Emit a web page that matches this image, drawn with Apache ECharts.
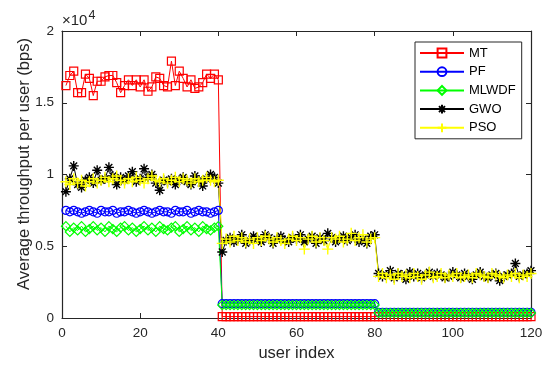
<!DOCTYPE html>
<html>
<head>
<meta charset="utf-8">
<script src="https://cdn.jsdelivr.net/npm/echarts@6/dist/echarts.min.js"></script>
<style>
html,body{margin:0;padding:0;background:#fff;}
#c{width:550px;height:372px;}
</style>
</head>
<body>
<div id="c"></div>
<script>
// user index 1..120
var users = [];
for (var u = 1; u <= 120; u++) users.push(u);

var xTicks = [0, 20, 40, 60, 80, 100, 120];
var yTicks = [0, 0.5, 1, 1.5, 2];   // in units of 10^4 bps
var seriesNames = ['MT', 'PF', 'MLWDF', 'GWO', 'PSO'];

var MT = [1.62,1.69,1.72,1.57,1.57,1.70,1.67,1.55,1.65,1.65,1.68,1.69,1.69,1.64,1.57,1.62,1.66,1.62,1.66,1.61,
          1.66,1.58,1.61,1.68,1.67,1.62,1.61,1.79,1.62,1.72,1.67,1.61,1.66,1.60,1.61,1.64,1.70,1.67,1.70,1.66,
          0.01,0.01,0.01,0.01,0.01,0.01,0.01,0.01,0.01,0.01,0.01,0.01,0.01,0.01,0.01,0.01,0.01,0.01,0.01,0.01,
          0.01,0.01,0.01,0.01,0.01,0.01,0.01,0.01,0.01,0.01,0.01,0.01,0.01,0.01,0.01,0.01,0.01,0.01,0.01,0.01,
          0.01,0.01,0.01,0.01,0.01,0.01,0.01,0.01,0.01,0.01,0.01,0.01,0.01,0.01,0.01,0.01,0.01,0.01,0.01,0.01,
          0.01,0.01,0.01,0.01,0.01,0.01,0.01,0.01,0.01,0.01,0.01,0.01,0.01,0.01,0.01,0.01,0.01,0.01,0.01,0.01];

var PF = [0.75,0.74,0.75,0.74,0.73,0.74,0.75,0.74,0.73,0.75,0.74,0.74,0.75,0.73,0.74,0.74,0.75,0.74,0.73,0.74,
          0.75,0.74,0.73,0.74,0.75,0.74,0.74,0.73,0.75,0.74,0.74,0.75,0.73,0.74,0.75,0.74,0.74,0.73,0.74,0.75,
          0.10,0.10,0.10,0.10,0.10,0.10,0.10,0.10,0.10,0.10,0.10,0.10,0.10,0.10,0.10,0.10,0.10,0.10,0.10,0.10,
          0.10,0.10,0.10,0.10,0.10,0.10,0.10,0.10,0.10,0.10,0.10,0.10,0.10,0.10,0.10,0.10,0.10,0.10,0.10,0.10,
          0.04,0.04,0.04,0.04,0.04,0.04,0.04,0.04,0.04,0.04,0.04,0.04,0.04,0.04,0.04,0.04,0.04,0.04,0.04,0.04,
          0.04,0.04,0.04,0.04,0.04,0.04,0.04,0.04,0.04,0.04,0.04,0.04,0.04,0.04,0.04,0.04,0.04,0.04,0.04,0.04];

var MLWDF = [0.64,0.60,0.63,0.61,0.64,0.60,0.62,0.64,0.61,0.63,0.60,0.64,0.62,0.60,0.63,0.64,0.61,0.63,0.60,0.62,
             0.64,0.61,0.63,0.60,0.64,0.62,0.61,0.63,0.64,0.60,0.62,0.64,0.61,0.63,0.60,0.64,0.62,0.61,0.63,0.64,
             0.09,0.09,0.09,0.09,0.09,0.09,0.09,0.09,0.09,0.09,0.09,0.09,0.09,0.09,0.09,0.09,0.09,0.09,0.09,0.09,
             0.09,0.09,0.09,0.09,0.09,0.09,0.09,0.09,0.09,0.09,0.09,0.09,0.09,0.09,0.09,0.09,0.09,0.09,0.09,0.09,
             0.035,0.035,0.035,0.035,0.035,0.035,0.035,0.035,0.035,0.035,0.035,0.035,0.035,0.035,0.035,0.035,0.035,0.035,0.035,0.035,
             0.035,0.035,0.035,0.035,0.035,0.035,0.035,0.035,0.035,0.035,0.035,0.035,0.035,0.035,0.035,0.035,0.035,0.035,0.035,0.035];

var GWO = [0.88,0.97,1.06,0.93,0.91,0.96,0.98,0.94,1.03,0.96,0.97,1.05,0.99,0.93,0.98,0.96,0.99,1.02,0.95,0.97,
           1.04,0.98,1.00,0.94,0.89,0.96,0.95,0.97,0.93,0.96,0.98,0.95,0.93,0.99,0.96,0.92,0.97,1.00,0.98,0.94,
           0.46,0.54,0.56,0.53,0.55,0.58,0.52,0.54,0.57,0.55,0.53,0.58,0.56,0.52,0.55,0.57,0.54,0.53,0.56,0.55,
           0.58,0.53,0.55,0.57,0.52,0.56,0.54,0.59,0.56,0.53,0.55,0.57,0.54,0.56,0.58,0.53,0.55,0.52,0.57,0.58,
           0.31,0.29,0.30,0.33,0.28,0.31,0.30,0.27,0.32,0.29,0.31,0.28,0.30,0.32,0.29,0.31,0.30,0.28,0.29,0.32,
           0.30,0.28,0.31,0.29,0.27,0.30,0.32,0.29,0.28,0.30,0.31,0.26,0.29,0.30,0.31,0.38,0.29,0.30,0.31,0.33];

var PSO = [0.95,0.93,0.97,0.94,0.96,0.92,0.95,0.97,0.94,0.96,0.98,0.95,0.97,0.99,0.96,0.94,0.97,0.95,0.98,0.96,
           0.94,0.97,0.99,0.96,0.95,0.97,0.94,0.96,0.98,0.95,0.97,0.96,0.94,0.97,0.95,0.96,0.98,0.96,0.95,0.96,
           0.52,0.55,0.53,0.57,0.54,0.56,0.53,0.55,0.52,0.56,0.54,0.57,0.55,0.53,0.56,0.54,0.52,0.55,0.57,0.54,
           0.56,0.48,0.55,0.57,0.53,0.56,0.54,0.48,0.56,0.55,0.57,0.53,0.55,0.59,0.54,0.56,0.58,0.53,0.55,0.56,
           0.29,0.31,0.28,0.30,0.27,0.31,0.29,0.30,0.28,0.31,0.29,0.27,0.30,0.32,0.28,0.29,0.31,0.28,0.30,0.29,
           0.31,0.28,0.29,0.30,0.28,0.31,0.30,0.29,0.28,0.31,0.30,0.29,0.28,0.30,0.29,0.31,0.28,0.30,0.29,0.31];

var axisColor = '#262626';
var FONT = 'Liberation Sans, Arial, Helvetica, sans-serif';

function pairs(vals) {
  return users.map(function (x, i) { return [x, vals[i]]; });
}

var starPath = 'path://M5,0 L5,10 M0,5 L10,5 M1.6,1.6 L8.4,8.4 M1.6,8.4 L8.4,1.6';
var plusPath = 'path://M5,0 L5,10 M0,5 L10,5';

function lineSeries(name, vals, color, symbol, size, bw) {
  return {
    name: name, type: 'line', data: pairs(vals),
    symbol: symbol, symbolSize: size,
    lineStyle: { color: color, width: 1 },
    itemStyle: { color: 'rgba(255,255,255,0)', borderColor: color, borderWidth: bw },
    emphasis: { disabled: true },
    animation: false
  };
}

var chart = echarts.init(document.getElementById('c'), null, { renderer: 'canvas' });
var xMin = xTicks[0], xMax = xTicks[xTicks.length - 1], xInt = xTicks[1] - xTicks[0];
var yMin = yTicks[0], yMax = yTicks[yTicks.length - 1], yInt = yTicks[1] - yTicks[0];

function axisCommon() {
  return {
    axisLine: { show: true, onZero: false, lineStyle: { color: axisColor, width: 1.2 } },
    axisTick: { show: true, inside: true, length: 5, lineStyle: { color: axisColor } },
    splitLine: { show: false }
  };
}

var xBottom = Object.assign(axisCommon(), {
  type: 'value', position: 'bottom', min: xMin, max: xMax, interval: xInt,
  name: 'user index', nameLocation: 'middle', nameGap: 27,
  nameTextStyle: { fontFamily: FONT, fontSize: 16.5, color: axisColor },
  axisLabel: { fontFamily: FONT, fontSize: 13.5, color: axisColor, margin: 8 }
});
var xTop = Object.assign(axisCommon(), {
  type: 'value', position: 'top', min: xMin, max: xMax, interval: xInt,
  axisLabel: { show: false }
});
var yLeft = Object.assign(axisCommon(), {
  type: 'value', position: 'left', min: yMin, max: yMax, interval: yInt,
  axisLabel: { fontFamily: FONT, fontSize: 13.5, color: axisColor, margin: 8 }
});
var yRight = Object.assign(axisCommon(), {
  type: 'value', position: 'right', min: yMin, max: yMax, interval: yInt,
  axisLabel: { show: false }
});

chart.setOption({
  backgroundColor: '#fff',
  animation: false,
  grid: { left: 62, right: 19, top: 31, bottom: 54, containLabel: false },
  xAxis: [xBottom, xTop],
  yAxis: [yLeft, yRight],
  legend: {
    data: seriesNames,
    orient: 'vertical', left: 415, top: 42,
    backgroundColor: '#fff', borderColor: axisColor, borderWidth: 1,
    padding: [4, 6, 4, 4], itemGap: 4.7, itemWidth: 44, itemHeight: 11,
    textStyle: { fontFamily: FONT, fontSize: 13, color: '#000', lineHeight: 14 }
  },
  graphic: [
    { type: 'text', x: 24, y: 164, rotation: Math.PI / 2,
      style: { text: 'Average throughput per user (bps)', font: '16.5px ' + FONT, fill: axisColor,
               textAlign: 'center', textVerticalAlign: 'middle' } },
    { type: 'text', x: 62, y: 28,
      style: { text: '\u00d710', font: '15px ' + FONT, fill: axisColor, textAlign: 'left', textVerticalAlign: 'bottom' } },
    { type: 'text', x: 88.5, y: 22,
      style: { text: '4', font: '12.5px ' + FONT, fill: axisColor, textAlign: 'left', textVerticalAlign: 'bottom' } }
  ],
  series: [
    lineSeries('MT', MT, '#ff0000', 'rect', 8, 1.2),
    lineSeries('PF', PF, '#0000ff', 'circle', 8, 1.2),
    lineSeries('MLWDF', MLWDF, '#00ff00', 'diamond', 9, 1.2),
    lineSeries('GWO', GWO, '#000000', starPath, 10, 1.4),
    lineSeries('PSO', PSO, '#ffff00', plusPath, 11, 1.4)
  ]
});
</script>
</body>
</html>
